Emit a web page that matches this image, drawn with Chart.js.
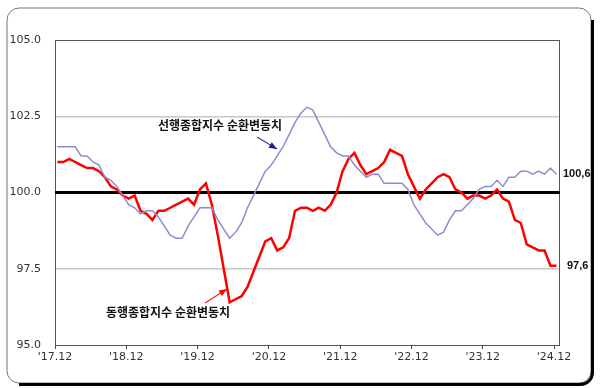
<!DOCTYPE html>
<html>
<head>
<meta charset="utf-8">
<script src="https://cdn.jsdelivr.net/npm/chart.js@4/dist/chart.umd.min.js"></script>
<style>
html,body{margin:0;padding:0;background:#fff;}
#wrap{width:600px;height:388px;position:relative;}
canvas{display:block;}
</style>
</head>
<body>
<div id="wrap"><canvas id="c" width="600" height="388"></canvas></div>
<script>
// Monthly, '17.12 .. '24.12 (85 months)
const yearLabels = ["'17.12","'18.12","'19.12","'20.12","'21.12","'22.12","'23.12","'24.12"];
const yTicks = [95.0, 97.5, 100.0, 102.5, 105.0];

const leadingCycle = [
 101.5,101.5,101.5,101.5,101.2,101.2,101.0,100.9,100.5,100.4,100.2,99.9,
 99.6,99.5,99.3,99.4,99.4,99.2,98.9,98.6,98.5,98.5,98.9,99.2,
 99.5,99.5,99.5,99.1,98.8,98.5,98.7,99.0,99.5,99.9,100.3,100.7,
 100.9,101.2,101.5,101.9,102.3,102.6,102.8,102.7,102.3,101.9,101.5,101.3,
 101.2,101.2,100.9,100.7,100.5,100.6,100.6,100.3,100.3,100.3,100.3,100.1,
 99.6,99.3,99.0,98.8,98.6,98.7,99.1,99.4,99.4,99.6,99.8,100.1,
 100.2,100.2,100.4,100.2,100.5,100.5,100.7,100.7,100.6,100.7,100.6,100.8,
 100.6
];
const coincidentCycle = [
 101.0,101.0,101.1,101.0,100.9,100.8,100.8,100.7,100.5,100.2,100.1,99.9,
 99.8,99.9,99.4,99.3,99.1,99.4,99.4,99.5,99.6,99.7,99.8,99.6,
 100.1,100.3,99.6,98.6,97.5,96.4,96.5,96.6,96.9,97.4,97.9,98.4,
 98.5,98.1,98.2,98.5,99.4,99.5,99.5,99.4,99.5,99.4,99.6,100.0,
 100.7,101.1,101.3,100.9,100.6,100.7,100.8,101.0,101.4,101.3,101.2,100.6,
 100.2,99.8,100.1,100.3,100.5,100.6,100.5,100.1,100.0,99.8,99.9,99.9,
 99.8,99.9,100.1,99.8,99.7,99.1,99.0,98.3,98.2,98.1,98.1,97.6,
 97.6
];
const leadingName = "선행종합지수 순환변동치";
const coincidentName = "동행종합지수 순환변동치";
const endLabels = ["100,6", "97,6"];

const toXY = arr => arr.map((v,i)=>({x:i,y:v}));

function arrow(ctx, x1,y1,x2,y2,lineColor,headColor){
  ctx.save();
  ctx.strokeStyle=lineColor; ctx.lineWidth=1.3;
  ctx.beginPath(); ctx.moveTo(x1,y1); ctx.lineTo(x2,y2); ctx.stroke();
  const a=Math.atan2(y2-y1,x2-x1), L=8, W=3.2;
  ctx.fillStyle=headColor;
  ctx.beginPath();
  ctx.moveTo(x2,y2);
  ctx.lineTo(x2-L*Math.cos(a)+W*Math.sin(a), y2-L*Math.sin(a)-W*Math.cos(a));
  ctx.lineTo(x2-L*Math.cos(a)-W*Math.sin(a), y2-L*Math.sin(a)+W*Math.cos(a));
  ctx.closePath(); ctx.fill();
  ctx.restore();
}

const framePlugin = {
  id:'frame',
  beforeDraw(chart){
    const ctx=chart.ctx;
    ctx.save();
    ctx.fillStyle='#fff'; ctx.fillRect(0,0,600,388);
    const x=7,y=8,w=584,h=375,r=12;
    ctx.beginPath();
    ctx.moveTo(x+r,y); ctx.lineTo(x+w-r,y); ctx.arcTo(x+w,y,x+w,y+r,r);
    ctx.lineTo(x+w,y+h-r); ctx.arcTo(x+w,y+h,x+w-r,y+h,r);
    ctx.lineTo(x+r,y+h); ctx.arcTo(x,y+h,x,y+h-r,r);
    ctx.lineTo(x,y+r); ctx.arcTo(x,y,x+r,y,r); ctx.closePath();
    ctx.strokeStyle='#777'; ctx.lineWidth=1; ctx.stroke();
    ctx.beginPath();
    ctx.moveTo(x+w+1.5,y+r); ctx.lineTo(x+w+1.5,y+h+1.5-r);
    ctx.arcTo(x+w+1.5,y+h+1.5,x+w+1.5-r,y+h+1.5,r);
    ctx.lineTo(x+r,y+h+1.5);
    ctx.strokeStyle='#000'; ctx.lineWidth=3; ctx.stroke();
    ctx.restore();
  },
  beforeDatasetsDraw(chart){
    const ctx=chart.ctx, a=chart.chartArea, ys=chart.scales.y;
    ctx.save();
    ctx.strokeStyle='#555'; ctx.lineWidth=1;
    ctx.strokeRect(Math.round(a.left)+0.5, Math.round(a.top)+0.5, Math.round(a.right-a.left)-1, Math.round(a.bottom-a.top));
    const y100=ys.getPixelForValue(100);
    ctx.strokeStyle='#000'; ctx.lineWidth=3;
    ctx.beginPath(); ctx.moveTo(a.left,y100); ctx.lineTo(a.right,y100); ctx.stroke();
    ctx.restore();
  },
  afterDatasetsDraw(chart){
    const ctx=chart.ctx, a=chart.chartArea, ys=chart.scales.y;
    ctx.save();
    ctx.fillStyle='#111';
    ctx.font='bold 11px "Liberation Sans", Arial, sans-serif';
    ctx.textBaseline='middle'; ctx.textAlign='left';
    ctx.fillText(endLabels[0], a.right+3, ys.getPixelForValue(leadingCycle[leadingCycle.length-1]));
    ctx.fillText(endLabels[1], a.right+7, ys.getPixelForValue(coincidentCycle[coincidentCycle.length-1]));
    ctx.font='bold 12px "Noto Sans CJK KR", sans-serif';
    ctx.textAlign='center';
    ctx.fillText(leadingName, 220, 125);
    ctx.fillText(coincidentName, 168, 312);
    arrow(ctx, 257,137, 277,149, '#3c3ca8', '#1c1c8c');
    arrow(ctx, 205,303, 227,289, '#ff2020', '#ff0000');
    ctx.restore();
  }
};

new Chart(document.getElementById('c'), {
  type:'line',
  data:{
    datasets:[
      {label:leadingName, data:toXY(leadingCycle), borderColor:'#8c8cd0', borderWidth:1.5, pointRadius:0, tension:0},
      {label:coincidentName, data:toXY(coincidentCycle), borderColor:'#ff0000', borderWidth:2.5, pointRadius:0, tension:0}
    ]
  },
  options:{
    responsive:false, animation:false,
    layout:{padding:{left:0,right:40,top:40,bottom:0}},
    plugins:{legend:{display:false}, tooltip:{enabled:false}},
    scales:{
      x:{
        type:'linear', min:-0.4, max:84.6,
        afterBuildTicks(s){ s.ticks = yearLabels.map((l,k)=>({value:12*k-0.4})); },
        afterFit(s){ s.height=43; },
        ticks:{
          callback:(v,i)=>yearLabels[i],
          color:'#333', font:{family:'"DejaVu Sans", sans-serif', size:11},
          padding:2, maxRotation:0, autoSkip:false
        },
        grid:{drawOnChartArea:false, drawTicks:true, tickLength:4, color:'#444'},
        border:{display:false}
      },
      y:{
        min:95, max:105,
        afterBuildTicks(s){ s.ticks = yTicks.map(v=>({value:v})); },
        afterFit(s){ s.width=55; },
        ticks:{
          callback:v=>v.toFixed(1),
          color:'#333', font:{family:'"DejaVu Sans", sans-serif', size:11},
          padding:14
        },
        grid:{drawTicks:false, color:ctx=>(ctx.tick && (ctx.tick.value===102.5||ctx.tick.value===97.5))?'#c8c8c8':'rgba(0,0,0,0)', lineWidth:1.5},
        border:{display:false}
      }
    }
  },
  plugins:[framePlugin]
});
</script>
</body>
</html>
